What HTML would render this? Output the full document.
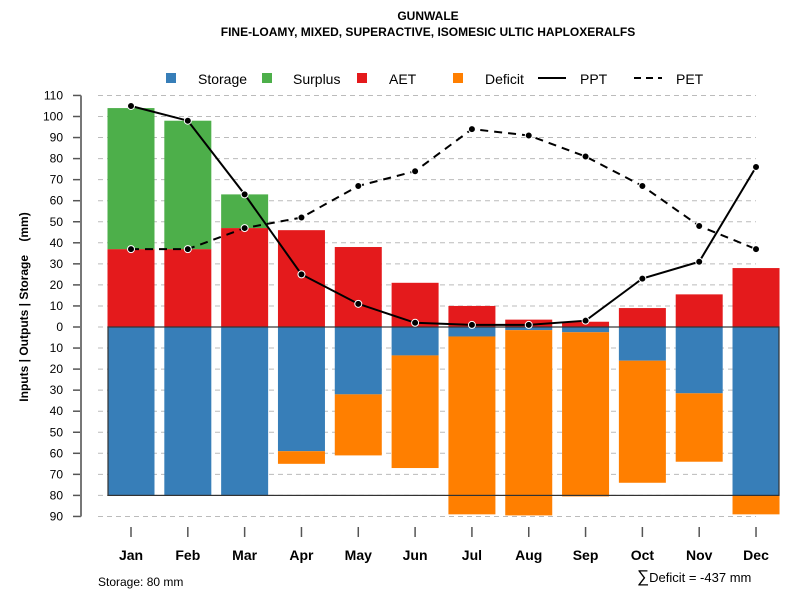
<!DOCTYPE html>
<html><head><meta charset="utf-8"><style>
body{margin:0;background:#fff;}
svg{display:block;font-family:"Liberation Sans",Arial,sans-serif;}
</style></head><body>
<svg id="c" width="800" height="600" xmlns="http://www.w3.org/2000/svg">
<text x="428" y="20" text-anchor="middle" font-size="12" font-weight="bold">GUNWALE</text>
<text x="428" y="36" text-anchor="middle" font-size="12" font-weight="bold">FINE-LOAMY, MIXED, SUPERACTIVE, ISOMESIC ULTIC HAPLOXERALFS</text>
<g id="legend">
<g><rect x="166" y="73" width="10" height="10" fill="#377eb8"/><text x="198" y="84" font-size="14">Storage</text></g>
<g><rect x="262" y="73" width="10" height="10" fill="#4daf4a"/><text x="293" y="84" font-size="14">Surplus</text></g>
<g><rect x="357" y="73" width="10" height="10" fill="#e41a1c"/><text x="389" y="84" font-size="14">AET</text></g>
<g><rect x="453" y="73" width="10" height="10" fill="#ff7f00"/><text x="485" y="84" font-size="14">Deficit</text></g>
<g><line x1="538" y1="78" x2="566" y2="78" stroke="#000" stroke-width="2"/><text x="580" y="84" font-size="14">PPT</text></g>
<g><line x1="634" y1="78" x2="662" y2="78" stroke="#000" stroke-width="2" stroke-dasharray="7,5"/><text x="676" y="84" font-size="14">PET</text></g>
</g>
<text transform="translate(28,307) rotate(-90)" text-anchor="middle" font-size="12" font-weight="bold">Inputs | Outputs | Storage&#160;&#160;&#160;&#160;(mm)</text>
<g id="grid"></g><g id="bars"></g><g id="axes"></g><g id="lines"></g>
<text x="98" y="586" font-size="12">Storage: 80 mm</text>
<text x="637" y="582" font-size="13"><tspan font-size="17">∑</tspan>Deficit = -437 mm</text>
</svg>
<script>
const months=["Jan","Feb","Mar","Apr","May","Jun","Jul","Aug","Sep","Oct","Nov","Dec"];
const aet=[37,37,47,46,38,21,10,3.5,2.5,9,15.5,28];
const surplus=[67,61,16,0,0,0,0,0,0,0,0,0];
const storage=[80,80,80,59,32,13.5,4.5,1.5,2.5,16,31.5,80];
const deficit=[0,0,0,6,29,53.5,84.5,88,78,58,32.5,9];
const ppt=[105,98,63,25,11,2,1,1,3,23,31,76];
const pet=[37,37,47,52,67,74,94,91,81,67,48,37];
const yTicks=[110,100,90,80,70,60,50,40,30,20,10,0,-10,-20,-30,-40,-50,-60,-70,-80,-90];
const capacity=80;
const NS="http://www.w3.org/2000/svg";
const y=v=>327-v*2.105;
const x=i=>131+i*56.82;
const bw=47;
function mk(tag,at,parent){const e=document.createElementNS(NS,tag);for(const k in at)e.setAttribute(k,at[k]);document.getElementById(parent).appendChild(e);return e;}
yTicks.forEach(t=>{
 const g=mk('line',{x1:98,x2:756,y1:y(t),y2:y(t),stroke:'#bbb','stroke-dasharray':'5,4'},'grid');
 
 
 const tk=mk('line',{x1:73,x2:81,y1:y(t),y2:y(t),stroke:'#555','stroke-width':1.5},'axes');
 
 
 const lb=mk('text',{x:63,y:y(t)+4,'text-anchor':'end','font-size':12},'axes');
 lb.textContent=Math.abs(t);
 
 
});
const ax=mk('line',{x1:81,x2:81,y1:y(110),y2:y(-90),stroke:'#777','stroke-width':2},'axes');


months.forEach((m,i)=>{
 const cx=x(i),l=cx-bw/2;
 const r1=mk('rect',{x:l,y:y(aet[i]),width:bw,height:y(0)-y(aet[i]),fill:'#e41a1c'},'bars');
 
 
 if(surplus[i]>0){const r=mk('rect',{x:l,y:y(aet[i]+surplus[i]),width:bw,height:y(aet[i])-y(aet[i]+surplus[i]),fill:'#4daf4a'},'bars');
 
 }
 const r2=mk('rect',{x:l,y:y(0),width:bw,height:y(-storage[i])-y(0),fill:'#377eb8'},'bars');
 
 
 if(deficit[i]>0){const r=mk('rect',{x:l,y:y(-storage[i]),width:bw,height:y(-storage[i]-deficit[i])-y(-storage[i]),fill:'#ff7f00'},'bars');
 
 }
 const t=mk('line',{x1:cx,x2:cx,y1:527,y2:537,stroke:'#555','stroke-width':1.5},'axes');
 
 
 const lb=mk('text',{x:cx,y:560,'text-anchor':'middle','font-size':14,'font-weight':'bold'},'axes');
 lb.textContent=m;
 
 
});
const box=mk('rect',{x:108,y:y(0),width:671,height:y(-capacity)-y(0),fill:'none',stroke:'#333','stroke-width':1.2},'bars');


function series(vals,dash,name){
 const p=mk('polyline',{points:vals.map((v,i)=>x(i)+','+y(v)).join(' '),fill:'none',stroke:'#000','stroke-width':2,'stroke-dasharray':dash},'lines');
 
 
 vals.forEach((v,i)=>{const c=mk('circle',{cx:x(i),cy:y(v),r:3.5,fill:'#000',stroke:'#fff','stroke-width':1},'lines');
 
 });
}
series(pet,'8,6','pet');
series(ppt,'none','ppt');
</script>
</body></html>
